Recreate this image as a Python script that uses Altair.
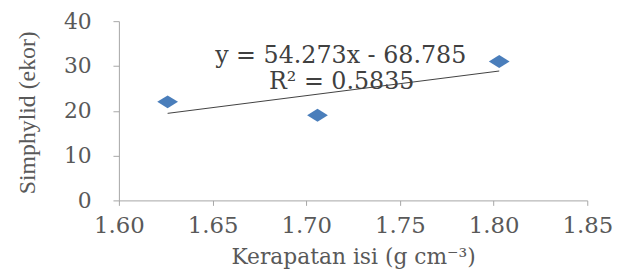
import altair as alt
import pandas as pd

# data
kerapatan = [1.626, 1.706, 1.803]
simphylid = [22.0, 19.0, 31.0]
x_ticks = [1.60, 1.65, 1.70, 1.75, 1.80, 1.85]
y_ticks = [0, 10, 20, 30, 40]
eq_text = ["y = 54.273x - 68.785"]
r2_text = ["R² = 0.5835"]

df = pd.DataFrame({"x": kerapatan, "y": simphylid})

GRAY = "#595959"
AXC = "#A6A6A6"

x_enc = alt.X(
    "x:Q",
    scale=alt.Scale(domain=[1.6, 1.85], nice=False, zero=False),
    axis=alt.Axis(
        values=x_ticks, format=".2f", title="Kerapatan isi (g cm⁻³)",
        grid=False, domainColor=AXC, tickColor=AXC, tickSize=5,
        labelFont="DejaVu Serif", labelFontSize=23, labelColor=GRAY,
        labelPadding=9, labelFlush=False,
        titleFont="DejaVu Serif", titleFontSize=22, titleColor=GRAY,
        titleFontWeight="normal", titleY=57, titleBaseline="middle",
    ),
)
y_enc = alt.Y(
    "y:Q",
    scale=alt.Scale(domain=[0, 40], nice=False),
    axis=alt.Axis(
        values=y_ticks, title="Simphylid (ekor)",
        grid=False, domainColor=AXC, tickColor=AXC, tickSize=6,
        labelFont="DejaVu Serif", labelFontSize=22, labelColor=GRAY,
        labelPadding=22,
        titleFont="Liberation Serif", titleFontSize=24, titleColor=GRAY,
        titleFontWeight="normal", titleX=-92, titleY=92, titleAngle=270,
        titleAlign="center", titleBaseline="middle",
    ),
)

base = alt.Chart(df)

points = base.mark_point(
    shape="M-1,0L0,-0.62L1,0L0,0.62Z", filled=True, size=440,
    opacity=1, color="#4A7EBB",
).encode(x=x_enc, y=y_enc)

trend = base.transform_regression("x", "y").mark_line(
    color="#404040", strokeWidth=1
).encode(x=alt.X("x:Q"), y=alt.Y("y:Q"))

eq = alt.Chart(pd.DataFrame({"t": eq_text})).mark_text(
    font="DejaVu Serif", fontSize=24, color="#404040", align="center",
    baseline="middle",
).encode(x=alt.value(224), y=alt.value(35), text="t:N")

r2 = alt.Chart(pd.DataFrame({"t": r2_text})).mark_text(
    font="DejaVu Serif", fontSize=24, color="#404040", align="center",
    baseline="middle",
).encode(x=alt.value(225), y=alt.value(62), text="t:N")

chart = alt.layer(trend, points, eq, r2).properties(
    width=473, height=181,
    autosize=alt.AutoSizeParams(type="none"),
    padding={"left": 112, "top": 12, "right": 28, "bottom": 70},
).configure_view(stroke=None)

chart.save("out.html", embed_options={"renderer": "svg", "actions": False})
